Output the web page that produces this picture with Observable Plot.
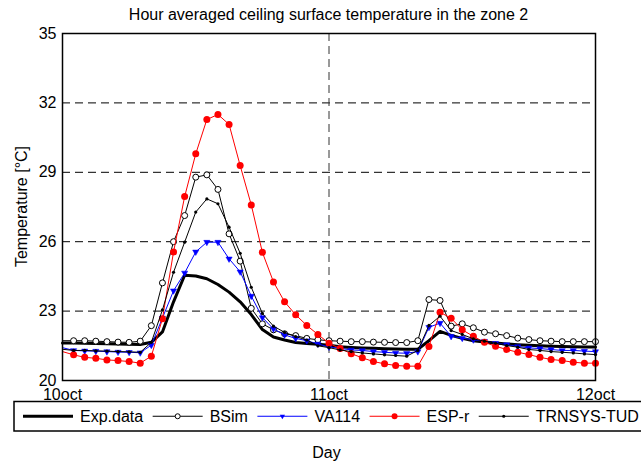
<!DOCTYPE html>
<html><head><meta charset="utf-8">
<script src="https://cdn.jsdelivr.net/npm/d3@7"></script>
<script src="https://cdn.jsdelivr.net/npm/@observablehq/plot@0.6"></script>
<style>html,body{margin:0;padding:0;background:#fff;} #chart{width:641px;height:467px;overflow:hidden}</style>
</head><body><div id="chart"></div>
<script>
const hours = d3.range(0, 49);
const dayTicks = [0, 24, 48];
const dayLabels = ["10oct", "11oct", "12oct"];
const tempTicks = [20, 23, 26, 29, 32, 35];
const gridTemps = [23, 26, 29, 32];
const seriesNames = ["Exp.data", "BSim", "VA114", "ESP-r", "TRNSYS-TUD"];

const expData = [21.62,21.62,21.61,21.6,21.59,21.58,21.57,21.56,21.65,22.1,
  23.4,24.55,24.52,24.4,24.15,23.82,23.4,22.85,22.2,21.88,
  21.75,21.64,21.6,21.57,21.52,21.46,21.43,21.41,21.39,21.37,
  21.36,21.35,21.35,21.72,22.12,21.95,21.82,21.72,21.66,21.62,
  21.58,21.55,21.52,21.5,21.48,21.47,21.46,21.45,21.45];
const bsim = [21.72,21.72,21.72,21.7,21.68,21.66,21.65,21.7,22.37,24.22,
  26.0,27.13,28.79,28.89,28.26,26.34,25.16,23.12,22.45,22.19,
  22.02,21.94,21.82,21.76,21.72,21.7,21.68,21.68,21.66,21.65,
  21.64,21.64,21.72,23.5,23.46,22.35,22.45,22.28,22.09,22.02,
  21.94,21.83,21.77,21.72,21.7,21.68,21.68,21.68,21.68];
const va114 = [21.42,21.3,21.28,21.27,21.25,21.23,21.22,21.2,21.53,22.7,
  23.88,24.65,25.56,25.98,25.98,25.26,24.7,23.65,22.72,22.23,
  21.97,21.82,21.72,21.58,21.45,21.39,21.32,21.3,21.25,21.22,
  21.19,21.18,21.25,22.3,22.48,21.91,21.83,21.76,21.7,21.61,
  21.55,21.47,21.41,21.38,21.34,21.3,21.3,21.27,21.25];
const espr = [21.25,21.11,21.0,20.96,20.89,20.86,20.82,20.75,21.05,22.67,
  25.56,27.95,29.8,31.28,31.5,31.07,29.29,27.59,25.54,24.26,
  23.4,22.84,22.38,21.99,21.61,21.38,21.16,20.98,20.82,20.72,
  20.65,20.62,20.62,21.47,22.95,22.69,22.19,21.91,21.65,21.48,
  21.34,21.22,21.12,21.0,20.91,20.86,20.79,20.75,20.75];
const trnsys = [21.35,21.3,21.3,21.28,21.27,21.25,21.24,21.22,21.65,23.05,
  24.68,25.98,27.28,27.85,27.64,26.63,25.5,24.03,22.9,22.35,
  22.08,21.9,21.75,21.5,21.42,21.32,21.25,21.19,21.15,21.11,
  21.08,21.05,21.3,22.38,22.78,22.16,21.99,21.8,21.7,21.61,
  21.51,21.44,21.34,21.3,21.25,21.22,21.19,21.15,21.12];

const rows = vals => hours.map((h, i) => ({h, v: vals[i]}));
const pts = vals => rows(vals).filter(d => d.h > 0);
const FONT = "'Liberation Sans', Arial, Helvetica, sans-serif";

const chart = Plot.plot({
  width: 641, height: 467,
  marginLeft: 62, marginRight: 46, marginTop: 33, marginBottom: 87,
  style: {fontFamily: FONT, fontSize: "16px", background: "#fff", color: "#000", overflow: "visible"},
  x: {domain: [0, 48]},
  y: {domain: [20, 35]},
  marks: [
    Plot.gridY(gridTemps, {stroke: "#000", strokeOpacity: 1, strokeWidth: 1, strokeDasharray: "8,5"}),
    Plot.gridX([24], {stroke: "#333", strokeOpacity: 1, strokeWidth: 1, strokeDasharray: "8,5"}),
    Plot.axisX(dayTicks, {tickSize: 0, tickPadding: 8, fontSize: 16, label: null,
      tickFormat: d => dayLabels[dayTicks.indexOf(d)]}),
    Plot.axisY(tempTicks, {tickSize: 0, tickPadding: 6, fontSize: 16, label: null}),
    Plot.line(rows(expData), {x: "h", y: "v", stroke: "#000", strokeWidth: 3}),
    Plot.line(rows(bsim), {x: "h", y: "v", stroke: "#000", strokeWidth: 1}),
    Plot.dot(pts(bsim), {x: "h", y: "v", r: 3, fill: "#fff", stroke: "#000", strokeWidth: 1}),
    Plot.line(rows(va114), {x: "h", y: "v", stroke: "#0000ff", strokeWidth: 1}),
    Plot.dot(pts(va114), {x: "h", y: "v", r: 2.3, symbol: "triangle", rotate: 180, fill: "#0000ff", stroke: "#0000ff", strokeWidth: 0.5}),
    Plot.line(rows(espr), {x: "h", y: "v", stroke: "#ff0000", strokeWidth: 1}),
    Plot.dot(pts(espr), {x: "h", y: "v", r: 3.5, fill: "#ff0000", stroke: "none"}),
    Plot.line(rows(trnsys), {x: "h", y: "v", stroke: "#000", strokeWidth: 1}),
    Plot.dot(pts(trnsys), {x: "h", y: "v", r: 1.6, fill: "#000", stroke: "none"}),
    Plot.frame({stroke: "#000", strokeWidth: 1.5})
  ]
});
document.getElementById("chart").appendChild(chart);

const svg = d3.select(chart);
const xs = chart.scale("x"), ys = chart.scale("y");
const cx = (xs.apply(0) + xs.apply(48)) / 2;

svg.append("text").attr("x", cx).attr("y", 20).attr("text-anchor", "middle")
  .attr("font-family", FONT).attr("font-size", 16).attr("fill", "#000")
  .text("Hour averaged ceiling surface temperature in the zone 2");
svg.append("text").attr("transform", `translate(27,${(ys.apply(20) + ys.apply(35)) / 2}) rotate(-90)`)
  .attr("text-anchor", "middle").attr("font-family", FONT).attr("font-size", 16).attr("fill", "#000")
  .text("Temperature [°C]");
svg.append("text").attr("x", cx - 2).attr("y", 458).attr("text-anchor", "middle")
  .attr("font-family", FONT).attr("font-size", 16).attr("fill", "#000").text("Day");

// legend
const lg = svg.append("g").attr("text-anchor", "start");
const boxTop = 401.5, boxH = 29.5, midY = boxTop + boxH / 2;
lg.append("rect").attr("x", 14).attr("y", boxTop).attr("width", 640).attr("height", boxH)
  .attr("fill", "#fff").attr("stroke", "#000").attr("stroke-width", 1.5);
const styles = [
  {stroke: "#000", w: 3, marker: null},
  {stroke: "#000", w: 1, marker: "bsim"},
  {stroke: "#0000ff", w: 1, marker: "va"},
  {stroke: "#ff0000", w: 1, marker: "esp"},
  {stroke: "#000", w: 1, marker: "trn"}
];
let xpos = 23;
seriesNames.forEach((name, i) => {
  const s = styles[i];
  const x0 = xpos, x1 = xpos + 50, xm = (x0 + x1) / 2;
  lg.append("line").attr("x1", x0).attr("x2", x1).attr("y1", midY).attr("y2", midY)
    .attr("stroke", s.stroke).attr("stroke-width", s.w);
  if (s.marker === "bsim") lg.append("circle").attr("cx", xm).attr("cy", midY).attr("r", 2.5).attr("fill", "#fff").attr("stroke", "#000");
  if (s.marker === "esp") lg.append("circle").attr("cx", xm).attr("cy", midY).attr("r", 3).attr("fill", "#ff0000");
  if (s.marker === "trn") lg.append("circle").attr("cx", xm).attr("cy", midY).attr("r", 1.6).attr("fill", "#000");
  if (s.marker === "va") lg.append("path").attr("d", d3.symbol(d3.symbolTriangle, 12)())
    .attr("transform", `translate(${xm},${midY}) rotate(180)`).attr("fill", "#0000ff");
  const t = lg.append("text").attr("x", x1 + 7).attr("y", midY + 5.5).attr("text-anchor", "start")
    .attr("font-family", FONT).attr("font-size", 16).attr("fill", "#000").text(name);
  xpos = x1 + 7 + t.node().getComputedTextLength() + 9.5;
});
</script></body></html>
